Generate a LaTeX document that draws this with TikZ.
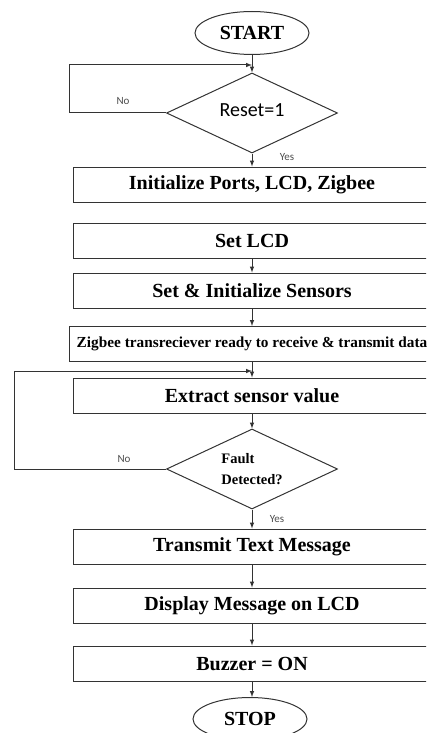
\documentclass[tikz,border=0pt]{standalone}
\usepackage{fontspec}
\setmainfont{Liberation Serif}
\newfontfamily\calibrifont{Carlito}
\usetikzlibrary{shapes.geometric}
\begin{document}
\begin{tikzpicture}[x=1pt,y=-1pt,
    flowline/.style={line width=1pt, draw=black!80},
    terminal/.style={flowline, ellipse, minimum width=114pt, minimum height=43pt, inner sep=0pt, font=\bfseries\fontsize{20}{24}\selectfont},
    process/.style={flowline, rectangle, minimum width=358pt, minimum height=35pt, inner sep=0pt, font=\bfseries\fontsize{20}{24}\selectfont},
    decision/.style={flowline, diamond, aspect=2.14, minimum width=171pt, minimum height=80pt, inner sep=0pt},
    answer/.style={font=\calibrifont\fontsize{11}{13}\selectfont, text=black!70}]
    \useasboundingbox (0,0) rectangle (426,733);
    \clip (0,0) rectangle (426,733);
    \node[terminal] (Start)    at (252,33)    {START};
    \node[decision, font=\calibrifont\fontsize{20}{24}\selectfont] (Reset) at (252,113) {\raisebox{5pt}{Reset=1}};
    \node[process]  (Init)     at (252,184.5) {Initialize Ports, LCD, Zigbee};
    \node[process]  (SetLCD)   at (252,240.5) {Set LCD};
    \node[process]  (Sensors)  at (252,290.5) {Set \& Initialize Sensors};
    \node[process, minimum width=366pt, font=\bfseries\fontsize{15.3}{18}\selectfont] (Zigbee) at (252,344) {Zigbee transreciever ready to receive \& transmit data};
    \node[process]  (Extract)  at (252,395.5) {Extract sensor value};
    \node[decision, align=left, font=\bfseries\fontsize{14.5}{21}\selectfont] (Fault) at (252,469) {Fault\\Detected?};
    \node[process]  (Transmit) at (252,546.5) {Transmit Text Message};
    \node[process]  (Display)  at (252,605.5) {Display Message on LCD};
    \node[process]  (Buzzer)   at (252,663.5) {Buzzer = ON};
    \node[terminal] (Stop)     at (250,719)   {STOP};
    \coordinate (ResetLoop) at (252,65);
    \coordinate (FaultLoop) at (252,371);
    \draw [flowline,-latex] (Start) -- (Reset);
    \draw [flowline,-latex] (Reset.west) -- (69,113) -- (69,65) -- (ResetLoop);% No: wait for reset
    \draw [flowline,-latex] (Reset) -- (Init);
    \draw [flowline,-latex] (SetLCD) -- (Sensors);
    \draw [flowline,-latex] (Sensors) -- (Zigbee);
    \draw [flowline,-latex] (Zigbee) -- (Extract);
    \draw [flowline,-latex] (Extract) -- (Fault);
    \draw [flowline,-latex] (Fault.west) -- (14,469) -- (14,371) -- (FaultLoop);% No: read again
    \draw [flowline,-latex] (Fault) -- (Transmit);
    \draw [flowline,-latex] (Transmit) -- (Display);
    \draw [flowline,-latex] (Display) -- (Buzzer);
    \draw [flowline,-latex] (Buzzer) -- (Stop.north -| Buzzer.south);
    \node[answer] (ResetNo)  at (123,101) {No};
    \node[answer] (ResetYes) at (287,157) {Yes};
    \node[answer] (FaultNo)  at (124,459) {No};
    \node[answer] (FaultYes) at (277,519) {Yes};
\end{tikzpicture}
\end{document}
